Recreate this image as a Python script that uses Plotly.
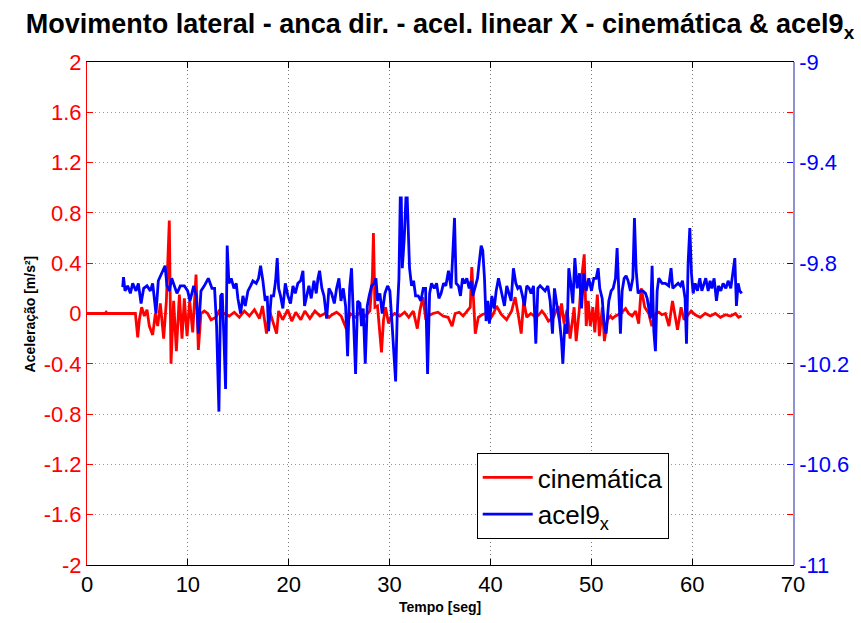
import plotly.graph_objects as go

# ---- data: cinemática (left axis, m/s^2) ----
cin_t = [0.0, 1.8, 1.9, 2.0, 4.8, 5.03, 5.19, 5.42, 5.69, 5.95,
         6.18, 6.51, 6.78, 7.01, 7.27, 7.6, 7.87, 8.16, 8.33, 8.59,
         8.86, 9.16, 9.42, 9.65, 9.92, 10.18, 10.48, 10.81, 11.04, 11.3,
         11.63, 11.96, 12.3, 12.8, 13.1, 13.6, 14.1, 14.6, 15.1, 15.6,
         16.1, 16.6, 17.1, 17.4, 17.8, 18.1, 18.4, 18.8, 19.0, 19.4,
         19.9, 20.3, 20.7, 21.2, 21.6, 22.1, 22.6, 23.1, 23.6, 24.0,
         24.3, 24.75, 25.2, 25.7, 26.1, 26.6, 27.1, 27.6, 28.05, 28.3,
         28.4, 28.55, 28.8, 29.0, 29.2, 29.4, 29.6, 29.9, 30.1, 30.5,
         31.0, 31.5, 31.9, 32.35, 32.75, 33.0, 33.3, 33.6, 33.8, 34.3,
         34.8, 35.3, 35.8, 36.2, 36.5, 36.9, 37.3, 37.7, 38.0, 38.15,
         38.3, 38.5, 38.8, 39.15, 39.5, 40.0, 40.3, 40.6, 41.1, 41.6,
         42.1, 42.45, 42.8, 43.05, 43.3, 43.6, 44.0, 44.5, 44.8, 45.1,
         45.4, 45.75, 46.25, 46.7, 46.85, 47.05, 47.3, 47.6, 47.9, 48.3,
         48.5, 48.8, 49.0, 49.3, 49.5, 49.7, 49.9, 50.15, 50.35, 50.6,
         50.8, 51.1, 51.3, 51.6, 51.9, 52.1, 52.4, 52.9, 53.4, 53.7,
         54.05, 54.4, 54.7, 54.95, 55.3, 55.7, 56.0, 56.4, 56.7, 57.0,
         57.35, 57.7, 58.05, 58.55, 58.9, 59.2, 59.5, 59.9, 60.3, 60.8,
         61.3, 61.8, 62.3, 62.8, 63.3, 63.8, 64.3, 64.6, 64.9]
cin_v = [0.0, 0.0, 0.01, 0.0, 0.0, -0.19, -0.05, 0.05, -0.02, 0.03,
         -0.1, -0.17, 0.0, -0.1, 0.08, -0.2, 0.1, 0.74, -0.4, 0.1,
         -0.3, 0.15, -0.2, 0.12, -0.18, 0.1, -0.15, 0.31, -0.29, 0.0,
         0.02, 0.0, -0.05, -0.03, 0.02, 0.0, -0.02, 0.01, -0.03, 0.02,
         -0.02, 0.03, -0.04, 0.06, -0.16, 0.02, -0.06, -0.16, 0.02, -0.05,
         0.03, -0.06, 0.01, -0.05, 0.02, -0.04, 0.02, -0.02, 0.0, -0.03,
         -0.01, 0.01, -0.02, -0.12, 0.0, -0.03, 0.01, -0.02, 0.02, 0.3,
         0.64, 0.05, 0.06, -0.12, -0.31, -0.05, 0.05, -0.08, -0.03, 0.0,
         -0.02, 0.01, -0.03, 0.02, -0.12, 0.02, 0.13, -0.05, -0.02, 0.0,
         0.01, -0.02, -0.03, -0.1, 0.0, 0.01, -0.02, 0.02, 0.05, 0.37,
         0.15, -0.16, -0.03, -0.01, 0.0, -0.04, 0.0, 0.06, -0.01, -0.05,
         0.02, 0.13, -0.03, -0.16, 0.1, -0.03, 0.0, -0.03, -0.01, 0.02,
         -0.01, -0.06, -0.03, 0.06, -0.05, 0.08, -0.08, 0.03, -0.2, 0.05,
         -0.22, 0.02, 0.25, 0.47, -0.1, 0.1, -0.1, 0.05, -0.15, 0.15,
         -0.18, 0.05, -0.22, -0.05, -0.02, -0.04, -0.02, 0.0, 0.04, 0.0,
         -0.02, 0.02, -0.08, 0.2, 0.05, 0.0, -0.1, 0.0, 0.01, -0.01,
         0.0, -0.1, 0.1, -0.13, 0.05, -0.05, -0.02, 0.02, -0.01, -0.03,
         0.0, -0.02, 0.0, -0.03, -0.01, -0.02, 0.0, -0.03, -0.02]

# ---- data: acel9_x (right axis) ----
acel_t = [3.54, 3.62, 3.77, 4.03, 4.3, 4.53, 4.86, 5.09, 5.36, 5.62,
          5.95, 6.28, 6.51, 6.84, 7.07, 7.27, 7.5, 7.74, 7.93, 8.16,
          8.4, 8.66, 8.92, 9.25, 9.65, 9.98, 10.21, 10.58, 10.84, 11.04,
          11.3, 11.63, 12.03, 12.39, 12.65, 12.85, 13.08, 13.25, 13.41, 13.58,
          13.74, 13.9, 14.07, 14.3, 14.57, 14.8, 14.96, 15.23, 15.46, 15.69,
          15.96, 16.22, 16.45, 16.78, 17.01, 17.21, 17.44, 17.67, 17.87, 18.0,
          18.27, 18.5, 18.7, 18.86, 19.0, 19.19, 19.42, 19.66, 19.92, 20.18,
          20.42, 20.65, 20.91, 21.18, 21.41, 21.57, 21.8, 22.0, 22.23, 22.5,
          22.73, 22.9, 23.06, 23.29, 23.5, 23.76, 23.99, 24.25, 24.52, 24.75,
          24.98, 25.18, 25.41, 25.64, 25.84, 26.04, 26.23, 26.43, 26.63, 26.83,
          27.06, 27.22, 27.39, 27.59, 27.79, 27.98, 28.22, 28.48, 28.65, 28.81,
          29.04, 29.27, 29.54, 29.8, 30.03, 30.26, 30.46, 30.6, 30.76, 30.93,
          31.06, 31.16, 31.26, 31.46, 31.62, 31.75, 31.98, 32.18, 32.38, 32.58,
          32.84, 33.1, 33.34, 33.57, 33.77, 33.97, 34.16, 34.43, 34.66, 34.89,
          35.11, 35.35, 35.58, 35.84, 36.1, 36.27, 36.44, 36.6, 36.83, 37.03,
          37.23, 37.43, 37.66, 37.89, 38.09, 38.25, 38.48, 38.72, 38.88, 39.08,
          39.24, 39.41, 39.57, 39.74, 39.9, 40.14, 40.37, 40.57, 40.8, 41.0,
          41.19, 41.39, 41.62, 41.85, 42.05, 42.28, 42.52, 42.71, 42.94, 43.18,
          43.37, 43.6, 43.84, 44.03, 44.27, 44.5, 44.7, 44.93, 45.16, 45.42,
          45.69, 45.92, 46.15, 46.35, 46.6, 46.85, 47.05, 47.18, 47.38, 47.6,
          47.77, 47.94, 48.17, 48.37, 48.6, 48.83, 49.03, 49.26, 49.49, 49.75,
          50.02, 50.25, 50.48, 50.68, 50.84, 51.08, 51.27, 51.47, 51.74, 51.97,
          52.17, 52.4, 52.56, 52.73, 52.89, 53.06, 53.26, 53.45, 53.65, 53.88,
          54.12, 54.28, 54.45, 54.64, 54.88, 55.11, 55.37, 55.54, 55.7, 55.87,
          56.03, 56.2, 56.36, 56.53, 56.69, 57.02, 57.35, 57.68, 57.91, 58.08,
          58.34, 58.61, 58.84, 59.04, 59.3, 59.44, 59.6, 59.77, 59.93, 60.1,
          60.3, 60.53, 60.76, 60.96, 61.19, 61.35, 61.59, 61.78, 61.95, 62.18,
          62.41, 62.61, 62.84, 63.07, 63.34, 63.57, 63.83, 64.06, 64.23, 64.39,
          64.56, 64.72, 64.92]
acel_v = [-9.895, -9.855, -9.91, -9.89, -9.92, -9.88, -9.91, -9.88, -9.96, -9.9,
          -9.89, -9.91, -9.88, -10.0, -9.87, -9.85, -9.83, -9.81, -9.89, -9.91,
          -9.86, -9.89, -9.92, -9.89, -9.89, -9.91, -9.95, -9.89, -9.93, -10.08,
          -9.91, -9.89, -9.86, -9.9, -9.9, -10.05, -10.39, -9.93, -9.92, -10.1,
          -10.3, -9.73, -9.88, -9.86, -9.9, -9.88, -9.94, -10.0, -9.93, -9.97,
          -9.91, -9.89, -9.87, -9.88, -9.86, -9.81, -9.87, -9.95, -9.93, -10.07,
          -9.93, -9.93, -9.87, -9.78, -9.9, -9.93, -9.98, -9.88, -9.93, -9.96,
          -9.89, -9.92, -9.88, -9.87, -9.83, -9.97, -9.92, -9.89, -9.94, -9.87,
          -9.92, -9.86, -9.83, -9.9, -9.93, -10.02, -9.9, -9.92, -9.96, -9.9,
          -9.86, -9.95, -9.9, -9.97, -10.17, -9.9, -9.82, -10.05, -10.24, -9.95,
          -9.96, -10.05, -9.98, -10.2, -9.97, -9.93, -9.89, -9.88, -9.86, -9.95,
          -9.92, -10.0, -9.92, -9.89, -9.91, -10.05, -10.2, -10.27, -10.0, -9.86,
          -9.54, -9.54, -9.82, -9.7, -9.54, -9.54, -9.82, -9.89, -9.87, -9.93,
          -9.93, -9.95, -9.9, -9.9, -10.24, -9.92, -9.88, -9.9, -9.88, -9.94,
          -9.92, -9.88, -9.89, -9.83, -9.9, -9.75, -9.62, -9.88, -9.89, -9.93,
          -9.86, -9.88, -9.86, -9.9, -9.87, -9.93, -9.89, -9.86, -9.8, -9.73,
          -9.75, -9.86, -10.03, -9.95, -10.04, -9.93, -9.98, -9.91, -9.86, -9.9,
          -9.93, -9.97, -9.89, -9.92, -9.95, -9.82, -9.88, -9.9, -9.89, -9.93,
          -9.97, -9.89, -9.9, -9.92, -9.89, -10.12, -9.9, -9.89, -9.9, -9.91,
          -9.89, -9.95, -10.08, -9.9, -9.97, -10.03, -10.11, -10.2, -10.04, -10.08,
          -9.82, -9.87, -9.96, -9.78, -9.9, -9.84, -9.98, -9.84, -9.91, -9.86,
          -9.91, -9.86, -9.86, -9.82, -9.9, -9.94, -10.04, -10.08, -9.95, -9.91,
          -9.9, -9.86, -9.74, -9.9, -10.08, -9.91, -9.86, -9.85, -9.87, -9.91,
          -9.86, -9.62, -9.83, -9.92, -9.91, -9.91, -9.92, -9.94, -9.99, -10.02,
          -9.81, -10.07, -10.15, -9.91, -9.86, -9.88, -9.88, -9.89, -9.82, -9.9,
          -9.89, -9.88, -9.89, -9.87, -9.94, -10.12, -9.8, -9.66, -9.84, -9.92,
          -9.88, -9.91, -9.86, -9.91, -9.88, -9.86, -9.91, -9.87, -9.9, -9.86,
          -9.95, -9.89, -9.91, -9.88, -9.9, -9.87, -9.9, -9.83, -9.78, -9.97,
          -9.88, -9.91, -9.92]

# ---- tick labels ----
x_ticks = [0, 10, 20, 30, 40, 50, 60, 70]
y_ticks = [-2, -1.6, -1.2, -0.8, -0.4, 0, 0.4, 0.8, 1.2, 1.6, 2]
y_labels = ["-2", "-1.6", "-1.2", "-0.8", "-0.4", "0", "0.4", "0.8", "1.2", "1.6", "2"]
y2_ticks = [-11, -10.6, -10.2, -9.8, -9.4, -9]
y2_labels = ["-11", "-10.6", "-10.2", "-9.8", "-9.4", "-9"]

FONT = "Liberation Sans, Arial, Helvetica, sans-serif"

fig = go.Figure()
fig.add_trace(go.Scatter(x=cin_t, y=cin_v, mode="lines", name="cinemática",
                         line=dict(color="#ff0000", width=2.8), yaxis="y"))
fig.add_trace(go.Scatter(x=acel_t, y=acel_v, mode="lines", name="acel9<sub>x</sub>",
                         line=dict(color="#0000ff", width=2.8), yaxis="y2"))

fig.update_layout(
    width=861, height=623,
    margin=dict(l=87, r=68, t=62, b=58, autoexpand=False),
    paper_bgcolor="white", plot_bgcolor="white",
    font=dict(family=FONT, color="black"),
    title=dict(text="<b>Movimento lateral - anca dir. - acel. linear X - cinemática & acel9<sub>x</sub></b>",
               x=0.511, xanchor="center", y=0.962, yanchor="middle",
               font=dict(size=27, color="black", family=FONT)),
    xaxis=dict(range=[0, 70], tickvals=x_ticks, ticks="inside", ticklen=6,
               tickcolor="black", showline=True, linecolor="black", linewidth=1,
               mirror="ticks", showgrid=True, gridcolor="rgba(90,90,90,0.8)",
               griddash="1px,3px", gridwidth=1, zeroline=False,
               tickfont=dict(size=22, color="black")),
    yaxis=dict(range=[-2, 2], tickvals=y_ticks, ticktext=y_labels, ticks="inside",
               ticklen=6, tickcolor="#ff0000", showline=True, linecolor="#ff0000",
               linewidth=1, mirror="ticks", showgrid=True,
               gridcolor="rgba(235,80,80,0.8)", griddash="1px,3px", gridwidth=1,
               zeroline=False, tickfont=dict(size=22, color="#ff0000")),
    yaxis2=dict(range=[-11, -9], tickvals=y2_ticks, ticktext=y2_labels,
                overlaying="y", side="right", ticks="inside", ticklen=6,
                tickcolor="#0000ff", showline=True, linecolor="#9090d8", linewidth=1.5,
                showgrid=False, zeroline=False, tickfont=dict(size=22, color="#0000ff")),
    legend=dict(x=0.552, y=0.2227, xanchor="left", yanchor="top",
                bgcolor="white", bordercolor="black", borderwidth=1,
                font=dict(size=26, color="black", family=FONT),
                itemwidth=50, tracegroupgap=0),
    showlegend=True,
)

fig.add_annotation(text="<b>Aceleração [m/s²]</b>", xref="paper", yref="paper",
                   x=-0.095, y=0.5, textangle=-90, showarrow=False,
                   font=dict(size=14, color="black", family=FONT))
fig.add_annotation(text="<b>Tempo [seg]</b>", xref="paper", yref="paper",
                   x=0.5, y=-0.083, yanchor="middle", showarrow=False,
                   font=dict(size=14, color="black", family=FONT))

fig.write_html("out.html",
               config={"displayModeBar": False},
               post_script="document.body.style.margin='0';document.body.style.padding='0';")
